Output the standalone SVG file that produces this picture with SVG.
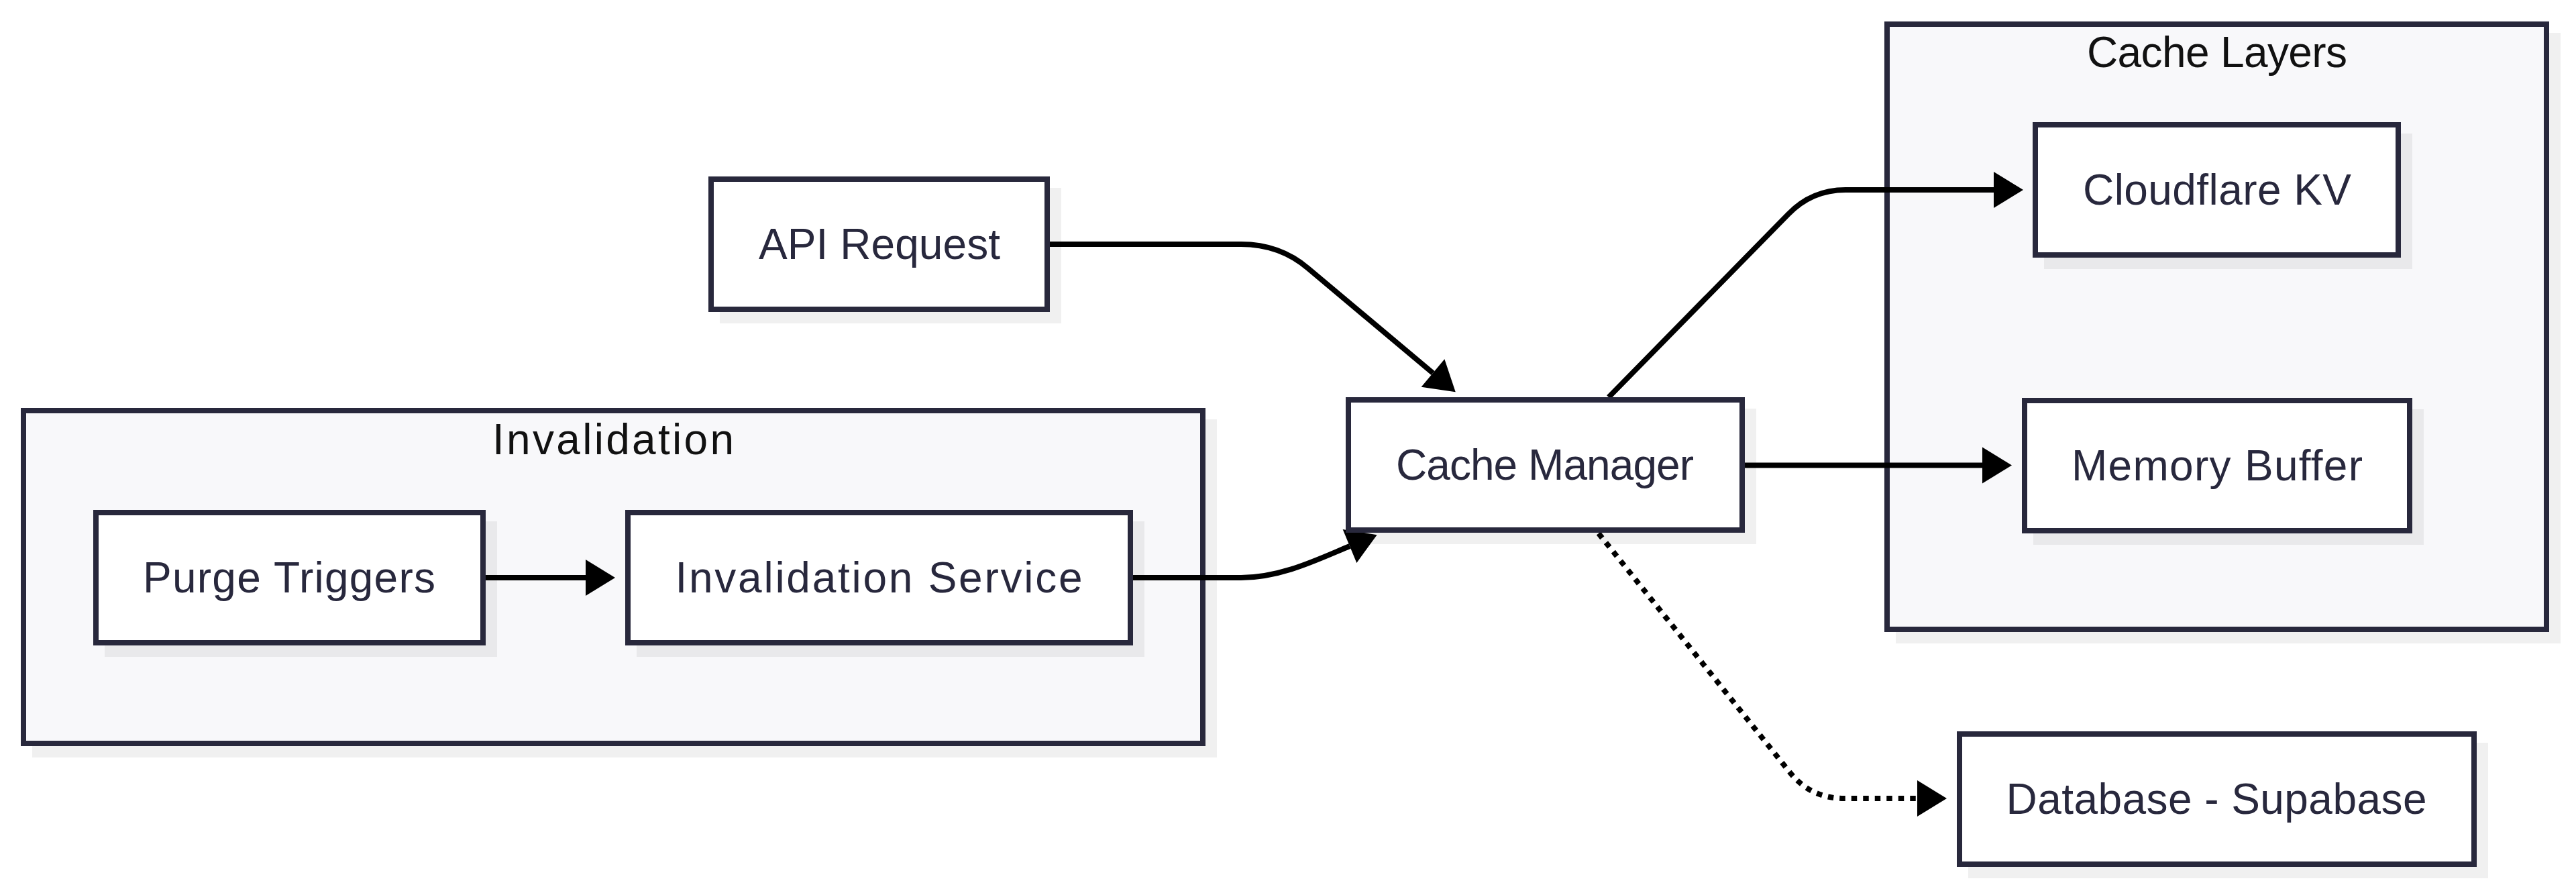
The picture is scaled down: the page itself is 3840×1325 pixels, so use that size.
<svg xmlns="http://www.w3.org/2000/svg" width="3840" height="1325" viewBox="0 0 3840 1325">
<defs>
<marker id="arr" markerUnits="userSpaceOnUse" markerWidth="46" markerHeight="56" viewBox="0 0 46 56" refX="0" refY="28" orient="auto" overflow="visible">
<path d="M0,1 L44,28 L0,55 z" fill="#000"/>
</marker>
<style>
.cl{fill:#f8f8fa;stroke:#28283c;stroke-width:8}
.nd{fill:#ffffff;stroke:#28283c;stroke-width:8}
.sh{fill:#000;fill-opacity:0.06}
.ct{font-family:"Liberation Sans",Arial,sans-serif;font-size:64px;fill:#111;text-anchor:middle}
.nt{font-family:"Liberation Sans",Arial,sans-serif;font-size:64px;fill:#28283d;text-anchor:middle}
.e{fill:none;stroke:#000;stroke-width:8;marker-end:url(#arr)}
.d{stroke-dasharray:8.5 9}
</style>
</defs>
<rect width="3840" height="1325" fill="#ffffff"/>
<g id="cluster-invalidation">
<rect class="sh" x="48" y="625" width="1766" height="504"/>
<rect class="cl" x="35" y="612" width="1758" height="496"/>
<text class="ct" x="914" y="677" textLength="360" lengthAdjust="spacing">Invalidation</text>
</g>
<g id="cluster-cache-layers">
<rect class="sh" x="2826" y="49" width="991" height="910"/>
<rect class="cl" x="2813" y="36" width="983" height="902"/>
<text class="ct" x="3305" y="100" textLength="388" lengthAdjust="spacing">Cache Layers</text>
</g>
<g id="connectors">
<path class="e" d="M723,861 L873,861"/>
<path class="e" d="M1689,861 L1850,861 C1910,861 1965,833.5 2012,814"/>
<path class="e" d="M1561,364 L1850,364 Q1908,364 1950,400 L2136,556"/>
<path class="e" d="M2398,592 L2666,319 Q2701,283 2751,283 L2972,283"/>
<path class="e" d="M2601,693.5 L2955,693.5"/>
<path class="e d" d="M2383,795 L2668,1151 Q2699,1190 2749,1190 L2858,1190"/>
</g>
<g id="node-purge-triggers">
<rect class="sh" x="156" y="777" width="585" height="202"/>
<rect class="nd" x="143" y="764" width="577" height="194"/>
<text class="nt" x="431" y="883" textLength="436" lengthAdjust="spacing">Purge Triggers</text>
</g>
<g id="node-invalidation-service">
<rect class="sh" x="949" y="777" width="757" height="202"/>
<rect class="nd" x="936" y="764" width="749" height="194"/>
<text class="nt" x="1310" y="883" textLength="607" lengthAdjust="spacing">Invalidation Service</text>
</g>
<g id="node-api-request">
<rect class="sh" x="1073" y="280" width="509" height="202"/>
<rect class="nd" x="1060" y="267" width="501" height="194"/>
<text class="nt" x="1311" y="386" textLength="360" lengthAdjust="spacing">API Request</text>
</g>
<g id="node-cache-manager">
<rect class="sh" x="2023" y="609" width="595" height="202"/>
<rect class="nd" x="2010" y="596" width="587" height="194"/>
<text class="nt" x="2303" y="715" textLength="444" lengthAdjust="spacing">Cache Manager</text>
</g>
<g id="node-cloudflare-kv">
<rect class="sh" x="3047" y="199" width="549" height="202"/>
<rect class="nd" x="3034" y="186" width="541" height="194"/>
<text class="nt" x="3305" y="305" textLength="400" lengthAdjust="spacing">Cloudflare KV</text>
</g>
<g id="node-memory-buffer">
<rect class="sh" x="3031" y="610" width="582" height="202"/>
<rect class="nd" x="3018" y="597" width="574" height="194"/>
<text class="nt" x="3305" y="716" textLength="434" lengthAdjust="spacing">Memory Buffer</text>
</g>
<g id="node-database-supabase">
<rect class="sh" x="2934" y="1107" width="775" height="202"/>
<rect class="nd" x="2921" y="1094" width="767" height="194"/>
<text class="nt" x="3304" y="1213" textLength="627" lengthAdjust="spacing">Database - Supabase</text>
</g>
</svg>
